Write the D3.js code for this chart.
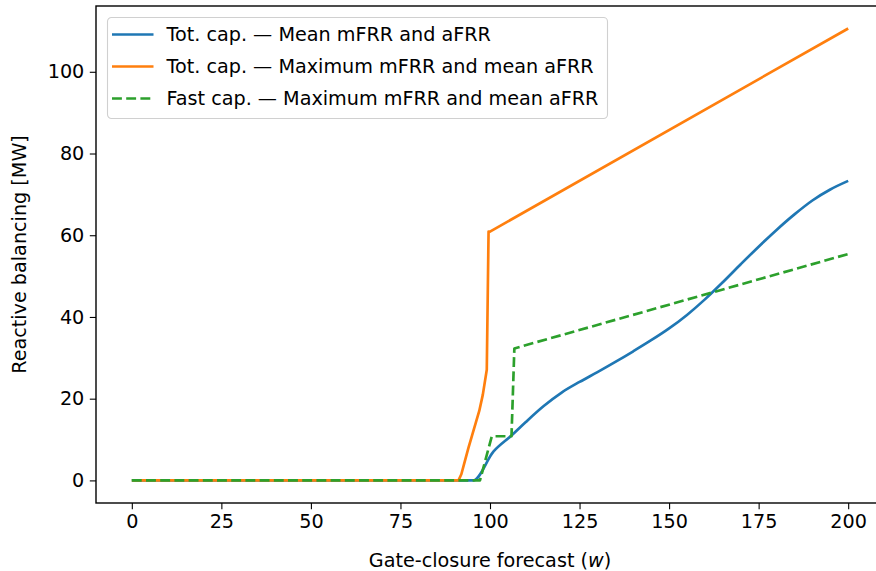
<!DOCTYPE html>
<html>
<head>
<meta charset="utf-8">
<script src="https://cdn.jsdelivr.net/npm/d3@7"></script>
<style>
  body { margin: 0; background: #fff; }
  svg text { font-family: "DejaVu Sans", sans-serif; fill: #000; }
</style>
</head>
<body>
<div id="chart"></div>
<script>
// series: [forecast, MW]
var meanTot = [[0, 0], [95.3, 0], [101, 7.1], [106, 11.0], [110, 14.3], [115, 18.2], [120, 21.5],
    [125, 24.1], [130, 26.5], [135, 29.0], [140, 31.6], [145, 34.3], [150, 37.2], [155, 40.5],
    [160, 44.3], [165, 48.5], [170, 52.9], [175, 57.2], [180, 61.3], [185, 65.1], [190, 68.5],
    [195, 71.2], [200, 73.3]];
var maxTot = [[0, 0], [91.2, 0], [92, 1.5], [93, 4.8], [94, 8], [95, 11], [96, 14], [97, 17],
    [98, 21], [99.1, 27.1], [99.6, 60.9], [100, 60.9], [200, 110.6]];
var maxFast = [[0, 0], [97.2, 0], [100.5, 10.8], [106, 10.8], [106.8, 32.3], [200, 55.4]];

var seriesNames = ["Tot. cap. \u2014 Mean mFRR and aFRR",
    "Tot. cap. \u2014 Maximum mFRR and mean aFRR",
    "Fast cap. \u2014 Maximum mFRR and mean aFRR"];
var colors = ["#1f77b4", "#ff7f0e", "#2ca02c"];
var xTicks = [0, 25, 50, 75, 100, 125, 150, 175, 200];
var yTicks = [0, 20, 40, 60, 80, 100];

var svgWidth = 876, svgHeight = 571;
var margin = { top: 6, right: -8, bottom: 68, left: 96 };
var chart_width = svgWidth - margin.left - margin.right;
var chart_height = svgHeight - margin.top - margin.bottom;
var fs = 19.2, lw = 2.67;

var svg = d3.select("#chart").append("svg")
    .attr("width", svgWidth)
    .attr("height", svgHeight);

var chartGroup = svg.append("g")
    .attr("transform", `translate(${margin.left}, ${margin.top})`);

var xScale = d3.scaleLinear().domain([-10, 210]).range([0, chart_width]);
var yScale = d3.scaleLinear().domain([-5.53, 116.1]).range([chart_height, 0]);

// axes
var bottomAxis = d3.axisBottom(xScale).tickValues(xTicks).tickSize(6.2).tickPadding(5.5).tickSizeOuter(0);
var leftAxis = d3.axisLeft(yScale).tickValues(yTicks).tickSize(6.2).tickPadding(5.5).tickSizeOuter(0);

var xg = chartGroup.append("g")
    .attr("transform", `translate(0, ${chart_height})`)
    .call(bottomAxis);
var yg = chartGroup.append("g").call(leftAxis);
[xg, yg].forEach(function(g) {
    g.select(".domain").remove();
    g.selectAll("line").attr("stroke", "#000").attr("stroke-width", 1.1);
    g.selectAll("text").attr("font-size", fs).style("font-family", "DejaVu Sans");
});

// lines
var line = d3.line().x(d => xScale(d[0])).y(d => yScale(d[1]));
var smooth = d3.line().x(d => xScale(d[0])).y(d => yScale(d[1])).curve(d3.curveMonotoneX);
[meanTot, maxTot, maxFast].forEach(function(s, i) {
    chartGroup.append("path")
        .datum(s)
        .attr("d", i == 0 ? smooth : line)
        .attr("fill", "none")
        .attr("stroke", colors[i])
        .attr("stroke-width", lw)
        .attr("stroke-linejoin", "round")
        .attr("stroke-dasharray", i == 2 ? "9.9,4.3" : null);
});

// frame
chartGroup.append("rect")
    .attr("width", chart_width)
    .attr("height", chart_height)
    .attr("fill", "none")
    .attr("stroke", "#000")
    .attr("stroke-width", 1.4);

// axis titles
chartGroup.append("text")
    .attr("transform", "rotate(-90)")
    .attr("x", -chart_height / 2)
    .attr("y", -margin.left + 26)
    .attr("text-anchor", "middle")
    .attr("font-size", fs)
    .text("Reactive balancing [MW]");

var xl = chartGroup.append("text")
    .attr("x", chart_width / 2)
    .attr("y", chart_height + 64)
    .attr("text-anchor", "middle")
    .attr("font-size", fs);
xl.append("tspan").text("Gate-closure forecast (");
xl.append("tspan").attr("font-style", "oblique").text("w");
xl.append("tspan").text(")");

// legend
var legend = svg.append("g").attr("transform", "translate(107.5, 17.5)");
legend.append("rect")
    .attr("width", 500)
    .attr("height", 101)
    .attr("rx", 4)
    .attr("fill", "#fff")
    .attr("fill-opacity", 0.8)
    .attr("stroke", "#d0d0d0")
    .attr("stroke-width", 1.1);
seriesNames.forEach(function(name, i) {
    var yy = 17 + i * 32;
    legend.append("line")
        .attr("x1", 4.5).attr("x2", 46)
        .attr("y1", yy).attr("y2", yy)
        .attr("stroke", colors[i])
        .attr("stroke-width", lw)
        .attr("stroke-dasharray", i == 2 ? "9.9,4.3" : null);
    legend.append("text")
        .attr("x", 59)
        .attr("y", yy)
        .attr("dy", "0.35em")
        .attr("font-size", fs)
        .text(name);
});
</script>
</body>
</html>
